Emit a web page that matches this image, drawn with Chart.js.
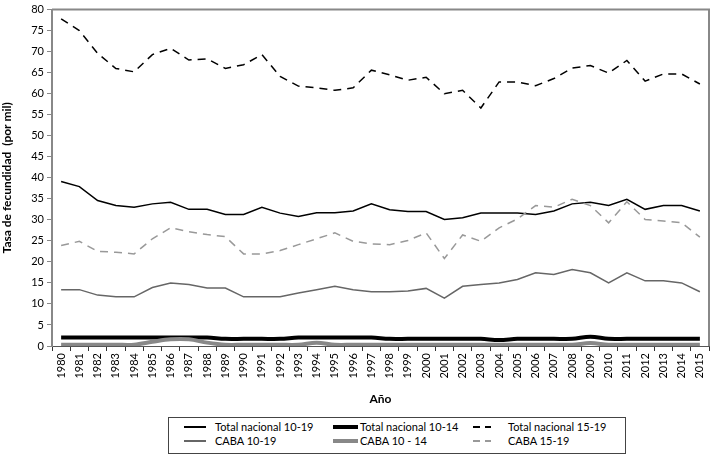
<!DOCTYPE html>
<html>
<head>
<meta charset="utf-8">
<script src="https://cdn.jsdelivr.net/npm/chart.js@4"></script>
<style>
  body { margin: 0; background: #fff; font-family: Lato, "Open Sans", sans-serif; }
  #wrap { position: relative; width: 716px; height: 469px; }
  #chartBox { position: absolute; left: 0; top: 0; width: 716px; height: 410px; }
  #legend {
    position: absolute; left: 168px; top: 417px; width: 456px; height: 35px;
    border: 1px solid #444; font-size: 11px; color: #000;
  }
  .swatch { position: absolute; }
  .label { position: absolute; height: 14px; line-height: 14px; white-space: nowrap; }
</style>
</head>
<body>
<div id="wrap">
  <div id="chartBox"><canvas id="fecundidadChart" width="716" height="410"></canvas></div>
  <div id="legend"></div>
</div>
<script>
const years = ['1980','1981','1982','1983','1984','1985','1986','1987','1988','1989','1990','1991','1992','1993','1994','1995','1996','1997',
  '1998','1999','2000','2001','2002','2003','2004','2005','2006','2007','2008','2009','2010','2011','2012','2013','2014','2015'];

const totalNac1019 = [39.1, 37.9, 34.6, 33.4, 33.0, 33.8, 34.2, 32.5, 32.5, 31.3, 31.3, 33.0, 31.6, 30.8, 31.7, 31.7, 32.1, 33.8,
  32.4, 32.0, 32.0, 30.1, 30.5, 31.6, 31.6, 31.6, 31.3, 32.1, 33.8, 34.2, 33.4, 34.9, 32.5, 33.4, 33.4, 32.1];
const totalNac1014 = [2.0, 2.0, 2.0, 2.0, 2.0, 2.0, 2.0, 2.0, 2.0, 1.7, 1.7, 1.7, 1.7, 2.0, 2.0, 2.0, 2.0, 2.0,
  1.7, 1.7, 1.7, 1.7, 1.7, 1.7, 1.4, 1.7, 1.7, 1.7, 1.7, 2.2, 1.7, 1.7, 1.7, 1.7, 1.7, 1.7];
const totalNac1519 = [77.8, 75.0, 69.6, 66.0, 65.2, 69.3, 70.8, 68.0, 68.3, 66.0, 66.9, 69.3, 64.1, 61.8, 61.4, 60.8, 61.4, 65.6,
  64.5, 63.2, 63.9, 60.0, 60.8, 56.6, 62.8, 62.8, 61.9, 63.6, 66.1, 66.7, 64.9, 67.9, 63.0, 64.7, 64.7, 62.3];
const caba1019 = [13.4, 13.4, 12.1, 11.7, 11.7, 13.9, 15.0, 14.6, 13.8, 13.8, 11.7, 11.7, 11.7, 12.6, 13.4, 14.2, 13.4, 12.9,
  12.9, 13.1, 13.7, 11.4, 14.2, 14.6, 15.0, 15.8, 17.4, 17.0, 18.2, 17.4, 15.0, 17.4, 15.5, 15.5, 15.0, 12.9];
const caba1014 = [0.3, 0.3, 0.3, 0.3, 0.3, 1.0, 1.6, 1.6, 0.8, 0.3, 0.3, 0.3, 0.3, 0.3, 0.8, 0.3, 0.3, 0.3,
  0.3, 0.3, 0.3, 0.3, 0.3, 0.3, 0.3, 0.3, 0.3, 0.3, 0.3, 0.7, 0.3, 0.3, 0.3, 0.3, 0.3, 0.3];
const caba1519 = [23.9, 24.9, 22.5, 22.3, 21.9, 25.5, 28.1, 27.2, 26.5, 26.0, 21.9, 21.9, 22.7, 24.1, 25.5, 26.9, 24.9, 24.3,
  24.1, 25.1, 26.9, 20.8, 26.4, 24.9, 28.1, 30.2, 33.4, 33.0, 34.9, 33.4, 29.3, 34.3, 30.1, 29.7, 29.3, 25.9];

const yTicks = [0, 5, 10, 15, 20, 25, 30, 35, 40, 45, 50, 55, 60, 65, 70, 75, 80];

const datasets = [
  { label: 'Total nacional 10-19', data: totalNac1019, borderColor: '#000', borderWidth: 1.5, tension: 0 },
  { label: 'Total nacional 10-14', data: totalNac1014, borderColor: '#000', borderWidth: 4, tension: 0.35 },
  { label: 'Total nacional 15-19', data: totalNac1519, borderColor: '#000', borderWidth: 1.5, borderDash: [8, 6], tension: 0 },
  { label: 'CABA 10-19', data: caba1019, borderColor: '#666', borderWidth: 1.5, tension: 0 },
  { label: 'CABA 10 - 14', data: caba1014, borderColor: '#888', borderWidth: 4, tension: 0.35 },
  { label: 'CABA 15-19', data: caba1519, borderColor: '#999', borderWidth: 1.5, borderDash: [8, 6], tension: 0 }
].map(d => Object.assign({ pointRadius: 0, fill: false }, d));

// draw order: put thick lines underneath the thin ones
const order = [4, 1, 3, 5, 0, 2];

// frame round the plot (top and right edges)
const framePlugin = {
  id: 'frame',
  afterDatasetsDraw(chart) {
    const { ctx, chartArea: a } = chart;
    ctx.save();
    ctx.strokeStyle = '#888';
    ctx.lineWidth = 2;
    ctx.beginPath();
    ctx.moveTo(a.left, a.top);
    ctx.lineTo(a.right, a.top);
    ctx.lineTo(a.right, a.bottom);
    ctx.stroke();
    ctx.restore();
  }
};

const ctx = document.getElementById('fecundidadChart').getContext('2d');
Chart.defaults.font.family = 'Lato, "Open Sans", sans-serif';
Chart.defaults.color = '#000';

const chart = new Chart(ctx, {
  type: 'line',
  data: { labels: years, datasets: order.map(i => datasets[i]) },
  options: {
    responsive: false,
    animation: false,
    layout: { padding: { left: 0, top: 8, right: 7, bottom: 0 } },
    plugins: { legend: { display: false }, tooltip: { enabled: false } },
    scales: {
      x: {
        offset: true,
        grid: { drawOnChartArea: false, drawTicks: true, tickLength: 5, color: '#333', offset: true },
        border: { display: true, color: '#555', width: 1 },
        ticks: { minRotation: 90, maxRotation: 90, autoSkip: false, font: { size: 11 }, padding: 2 },
        title: { display: true, text: 'Año', font: { size: 12, weight: 'bold' }, padding: { top: 2 } },
        afterFit: s => { s.height = 64; }
      },
      y: {
        min: 0, max: 80,
        afterBuildTicks: s => { s.ticks = yTicks.map(v => ({ value: v })); },
        grid: { drawOnChartArea: false, drawTicks: true, tickLength: 5, color: '#888' },
        border: { display: true, color: '#888', width: 2 },
        ticks: { font: { size: 11 }, padding: 3 },
        title: { display: true, text: 'Tasa de fecundidad  (por mil)', font: { size: 12, weight: 'bold' }, padding: 0 },
        afterFit: s => { s.width = 52; }
      }
    }
  },
  plugins: [framePlugin]
});

// legend laid out like the reference: [swatch left, swatch width, text left, row centre]
const legendPos = [
  [15, 22, 46, 9], [164, 25, 191, 9], [304, 18, 339, 9],
  [15, 22, 46, 23], [164, 25, 191, 23], [304, 18, 339, 23]
];
const legendEl = document.getElementById('legend');
datasets.forEach((d, i) => {
  const [sx, sw, tx, cy] = legendPos[i];
  const h = d.borderWidth > 2 ? 4 : 1.5;
  const swatch = document.createElement('div');
  swatch.className = 'swatch';
  swatch.style.left = sx + 'px';
  swatch.style.width = sw + 'px';
  swatch.style.top = (cy - h / 2) + 'px';
  swatch.style.height = h + 'px';
  swatch.style.background = d.borderDash
    ? 'repeating-linear-gradient(90deg, ' + d.borderColor + ' 0 7px, transparent 7px 12px)'
    : d.borderColor;
  const label = document.createElement('div');
  label.className = 'label';
  label.style.left = tx + 'px';
  label.style.top = (cy - 7) + 'px';
  label.textContent = d.label;
  legendEl.appendChild(swatch);
  legendEl.appendChild(label);
});
</script>
</body>
</html>
